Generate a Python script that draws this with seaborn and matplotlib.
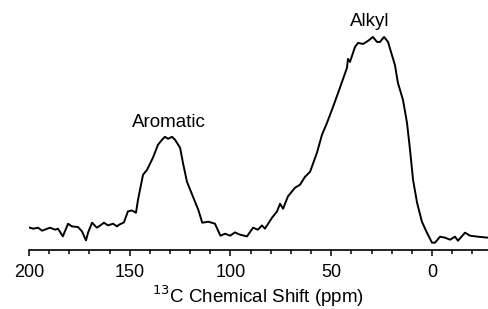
import matplotlib
matplotlib.use('Agg')
import matplotlib.pyplot as plt
import seaborn as sns
import pandas as pd
from matplotlib.ticker import MultipleLocator

# spectrum (ppm, intensity in arbitrary units)
ppm = [200, 198, 195.5, 193.5, 189.6, 187, 185.6, 183.2, 180.6, 178.7, 175.7, 173.7,
       171.7, 170.7, 168.7, 166.3, 164.8, 162.8, 160.8, 158.3, 156.3, 155.3, 152.9,
       150.9, 148.9, 146.9, 145.9, 143.4, 141.4, 138.5, 136, 134, 132.5, 131, 129,
       127.5, 125, 123.6, 121.6, 118.6, 116, 114, 111, 107.7, 105, 102.7, 100.2, 97.8,
       95.3, 91.8, 88.8, 86.4, 84.4, 82.9, 79.4, 76.9, 75.4, 73.9, 71.5, 68, 65.5, 63,
       60.5, 57.1, 54.6, 52.1, 49.1, 45.7, 42.2, 41.7, 40.7, 38.2, 36.7, 34.2, 31.8,
       29.3, 27.3, 25.8, 23.8, 21.8, 19.9, 18.4, 16.9, 14.4, 12.4, 10.9, 9.4, 7.4, 5,
       2.5, 0, -1.5, -4, -6.5, -9, -11.4, -12.9, -16.4, -18.9, -22.8, -27.8]
intensity = [0.3, -1, 0, -3, 0, -2, -1, -8.7, 4, 1.3, 0.7, -3.7,
             -12.7, -5, 5, 0, 2, 5, 2.3, 4, 1.3, 3, 5.3,
             16.3, 17.3, 15, 28, 53, 58, 70, 83, 88, 91, 89, 91,
             88, 80, 65, 46, 31, 18, 5, 6, 4, -8, -6, -8, -4.7,
             -7, -8.7, 0, -2, 2.3, -1, 10, 16.3, 24, 19, 31.3, 40, 43, 51,
             56, 75, 93, 105, 121, 140, 160, 169, 166, 181, 185, 184, 187,
             191, 186, 186, 191, 186, 173, 163, 145, 128, 105, 78, 48, 25, 6,
             -5, -15, -15, -9, -10, -12, -9, -13, -5, -8, -9, -10]

peak_names = ["Aromatic", "Alkyl"]
peak_ppm = [130.5, 30.8]
peak_height = [101, 202]

df = pd.DataFrame({"ppm": ppm, "intensity": intensity})

sns.set_style("ticks")
plt.rcParams['font.family'] = ['Liberation Sans', 'DejaVu Sans']
plt.rcParams['text.color'] = 'black'
plt.rcParams['axes.labelcolor'] = 'black'
plt.rcParams['xtick.color'] = 'black'
plt.rcParams['axes.edgecolor'] = 'black'

fig = plt.figure(figsize=(4.88, 3.09), dpi=100)
ax = fig.add_axes([0.0594, 0.192, 0.9406, 0.808])
sns.lineplot(data=df, x="ppm", y="intensity", color="black", linewidth=1.4, ax=ax)

for name, x, y in zip(peak_names, peak_ppm, peak_height):
    ax.text(x, y, name, ha="center", va="baseline", fontsize=13.5)

ax.set_xlim(200, -27.8)
ax.set_ylim(-22, 228)
ax.xaxis.set_major_locator(MultipleLocator(50))
ax.xaxis.set_minor_locator(MultipleLocator(10))
ax.tick_params(axis="x", which="major", length=4, width=1.1, labelsize=13, pad=6.5)
ax.tick_params(axis="x", which="minor", length=2.8, width=1.1)
ax.set_yticks([])
ax.set_ylabel("")
ax.set_xlabel("$^{13}$C Chemical Shift (ppm)", fontsize=13.5, labelpad=1.5)
sns.despine(ax=ax, left=True, top=True, right=True)
ax.spines["bottom"].set_linewidth(1.2)

fig.savefig("out.png", dpi=100)
